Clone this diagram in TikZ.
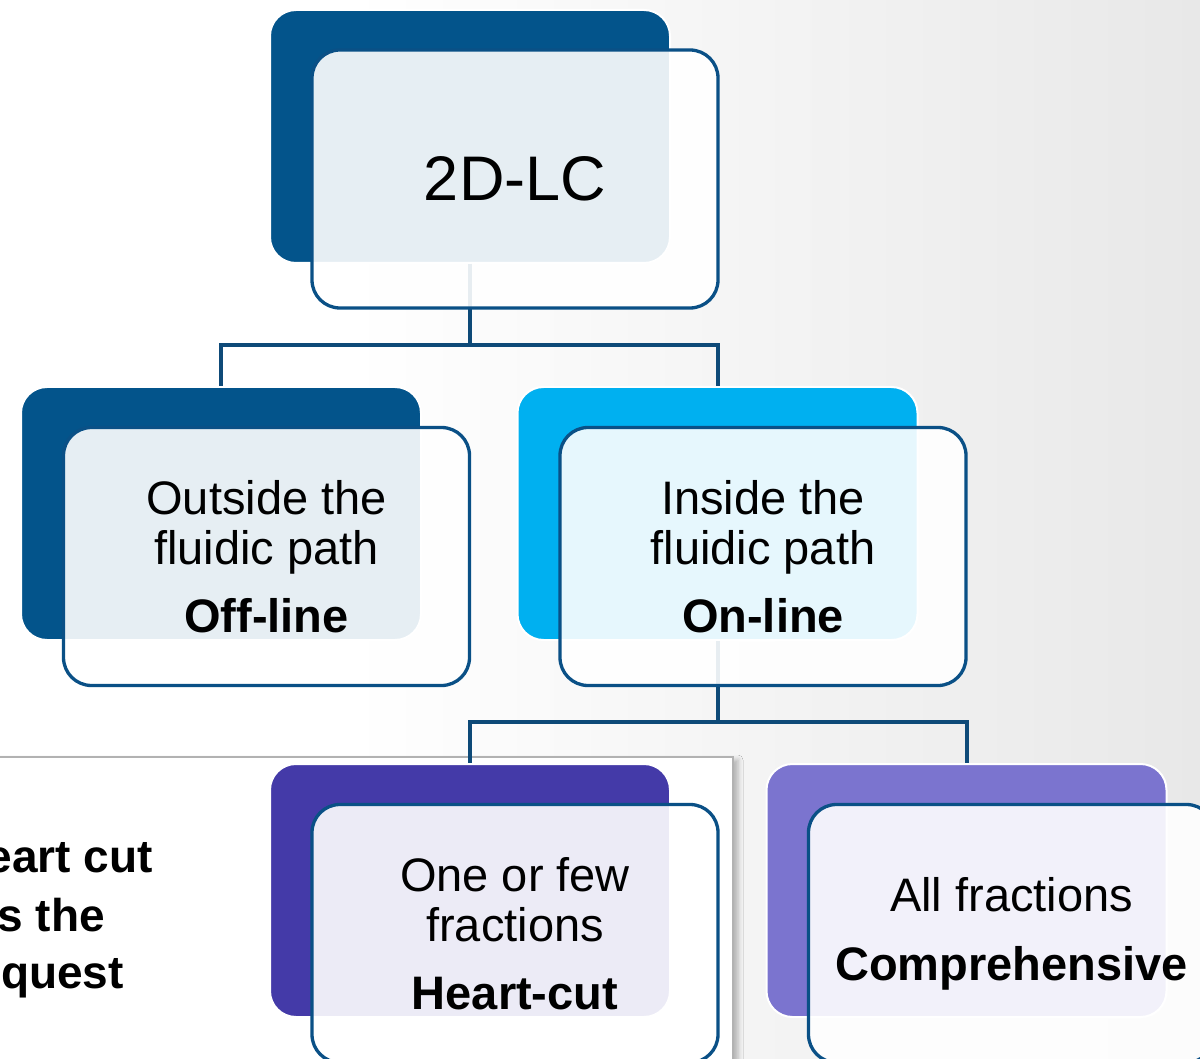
\documentclass[tikz,border=0pt]{standalone}
\usepackage{fontspec}
\setmainfont{Liberation Sans}
\usetikzlibrary{shadows.blur}
\definecolor{dkblue}{RGB}{3,84,139}
\definecolor{cyanb}{RGB}{0,176,240}
\definecolor{purp}{RGB}{68,58,168}
\definecolor{lav}{RGB}{123,116,207}
\definecolor{frameblue}{RGB}{10,80,134}
\definecolor{linkblue}{RGB}{14,74,120}
\definecolor{bggray}{RGB}{232,232,232}
\begin{document}
\begin{tikzpicture}[x=1pt,y=-1pt,
  backbox/.style={draw=white, line width=2pt, rounded corners=26pt, minimum width=400pt, minimum height=253pt, inner sep=0pt},
  frontbox/.style={draw=frameblue, line width=3.3pt, fill=white, fill opacity=0.9, text opacity=1, rounded corners=28pt, minimum width=406pt, minimum height=258pt, inner sep=0pt, align=center, font=\fontsize{47}{50}\selectfont},
  link/.style={draw=linkblue, line width=4pt},
  side/.style={font=\bfseries\fontsize{46}{58}\selectfont, anchor=base east, inner sep=0pt},
  notebox/.style={draw=gray!60, line width=2pt, fill=white, inner sep=0pt,
    blur shadow={shadow xshift=5pt, shadow yshift=-3pt, shadow blur radius=5pt, shadow opacity=28}}]
\useasboundingbox (0,0) rectangle (1200,1059);
\fill[white] (0,0) rectangle (1200,1059);
\shade[left color=white, right color=bggray] (350,0) rectangle (1200,1059);
% side note box
\node[notebox, minimum width=773pt, minimum height=330pt] (note) at (346.5,922) {};
\node[side] (s1) at (153,872) {eart cut};
\node[side] (s2) at (105,931) {s the};
\node[side] (s3) at (124,988) {quest};
% back boxes
\node[backbox, fill=dkblue] (b0) at (470,136.5) {};
\node[backbox, fill=dkblue] (b1) at (221,513.5) {};
\node[backbox, fill=cyanb] (b2) at (717.5,513.5) {};
\node[backbox, fill=purp] (b3) at (470,890.5) {};
\node[backbox, fill=lav] (b4) at (966.5,890.5) {};
% connectors
\draw[link] (b0.south) -- ++(0,81) coordinate (j0) -| (b1.north);
\draw[link] (j0) -| (b2.north);
\draw[link] (b2.south) -- ++(0,81) coordinate (j1) -| (b3.north);
\draw[link] (j1) -| (b4.north);
% front boxes
\node[frontbox] (f0) at (515,179) {\fontsize{63}{70}\selectfont 2D-LC};
\node[frontbox] (f1) at (266.5,556.5) {Outside the\\fluidic path\\[18pt]\textbf{Off-line}};
\node[frontbox] (f2) at (763,556.5) {Inside the\\fluidic path\\[18pt]\textbf{On-line}};
\node[frontbox] (f3) at (515,933.5) {One or few\\fractions\\[18pt]\textbf{Heart-cut}};
\node[frontbox] (f4) at (1011.5,933.5) {All fractions\\[19pt]\textbf{Comprehensive}};
\end{tikzpicture}
\end{document}
